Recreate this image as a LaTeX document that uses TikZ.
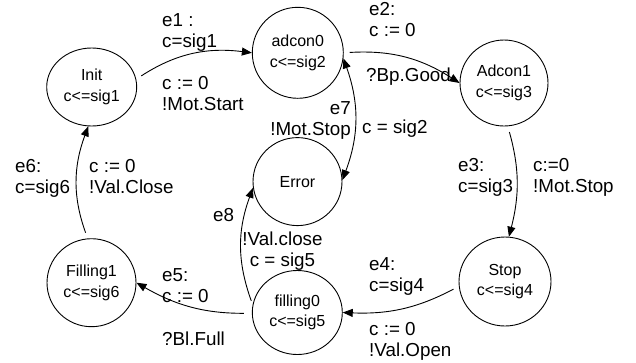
\documentclass[tikz,border=0pt]{standalone}
\usepackage{fontspec}
\setmainfont{Liberation Sans}
\usetikzlibrary{shapes.geometric,arrows.meta}
\tikzset{
  loc/.style={ellipse, draw, black, line width=0.9pt, minimum width=89pt, minimum height=88pt, inner sep=0pt, align=center, font=\fontsize{16}{20.5}\selectfont},
  tr/.style={draw, black, line width=0.9pt, -{Triangle[length=10pt,width=8pt]}, shorten <=6pt},
  lbl/.style={inner sep=0pt, align=left, anchor=north west, font=\fontsize{18.8}{21}\selectfont}
}
\begin{document}
\begin{tikzpicture}[x=1pt,y=-1pt]
        \useasboundingbox (0,0) rectangle (636,362);
        \node[loc, minimum width=90pt, minimum height=78pt] (init) at (91.7,87) {Init\\c<=sig1};
        \node[loc, minimum width=91pt, minimum height=91pt] (adcon0) at (297.8,52.8) {adcon0\\c<=sig2};
        \node[loc, minimum width=88pt, minimum height=86pt] (adcon1) at (504,83) {Adcon1\\c<=sig3};
        \node[loc] (error) at (297.5,181.6) {Error};
        \node[loc, minimum width=92pt, minimum height=89pt] (stop) at (505,281.5) {Stop\\c<=sig4};
        \node[loc, minimum width=90pt, minimum height=84pt] (filling0) at (297.3,312.5) {filling0\\c<=sig5};
        \node[loc] (filling1) at (91.5,282.7) {Filling1\\c<=sig6};
        \draw[tr] (init.10) to[bend left=20] (adcon0.180);
        \draw[tr] (adcon0.0) to[bend left=18] (adcon1.180);
        \draw[tr] (adcon1.-85) to[bend left=15] (stop.85);
        \draw[tr] (stop.186) to[bend left=15] (filling0.0);
        \draw[tr, shorten <=8pt] (filling0.181) to[bend left=15] (filling1.0);
        \draw[tr] (filling1.95) to[bend left=20] (init.-95);
        \draw[tr, {Triangle[length=10pt,width=8pt]}-{Triangle[length=10pt,width=8pt]}, shorten <=0pt] (adcon0.-7) to[bend left=20] (error.2);
        \draw[tr, shorten <=4pt] (filling0.170) to[bend left=20] (error.188);
        \node[lbl] (e1a) at (162,13) {e1 :\\c=sig1};
        \node[lbl] (e1b) at (162,76) {c := 0\\!Mot.Start};
        \node[lbl] (e2a) at (369,2) {e2:\\c := 0};
        \node[lbl] (e2b) at (366,68) {?Bp.Good};
        \node[lbl] (e3a) at (458,158) {e3:\\c=sig3};
        \node[lbl] (e3b) at (533,158) {c:=0\\!Mot.Stop};
        \node[lbl] (e4a) at (369,257) {e4:\\c=sig4};
        \node[lbl] (e4b) at (369,322) {c := 0\\!Val.Open};
        \node[lbl] (e5a) at (162,268) {e5:\\c := 0};
        \node[lbl] (e5b) at (162,332) {?Bl.Full};
        \node[lbl] (e6a) at (15,159) {e6:\\c=sig6};
        \node[lbl] (e6b) at (89,159) {c := 0\\!Val.Close};
        \node[lbl, anchor=north east, align=right] (e7a) at (351,101) {e7\\!Mot.Stop};
        \node[lbl] (e7b) at (362,120) {c = sig2};
        \node[lbl] (e8a) at (213,208) {e8};
        \node[lbl, anchor=north, align=center] (e8b) at (282.5,232) {!Val.close\\c = sig5};
\end{tikzpicture}
\end{document}
